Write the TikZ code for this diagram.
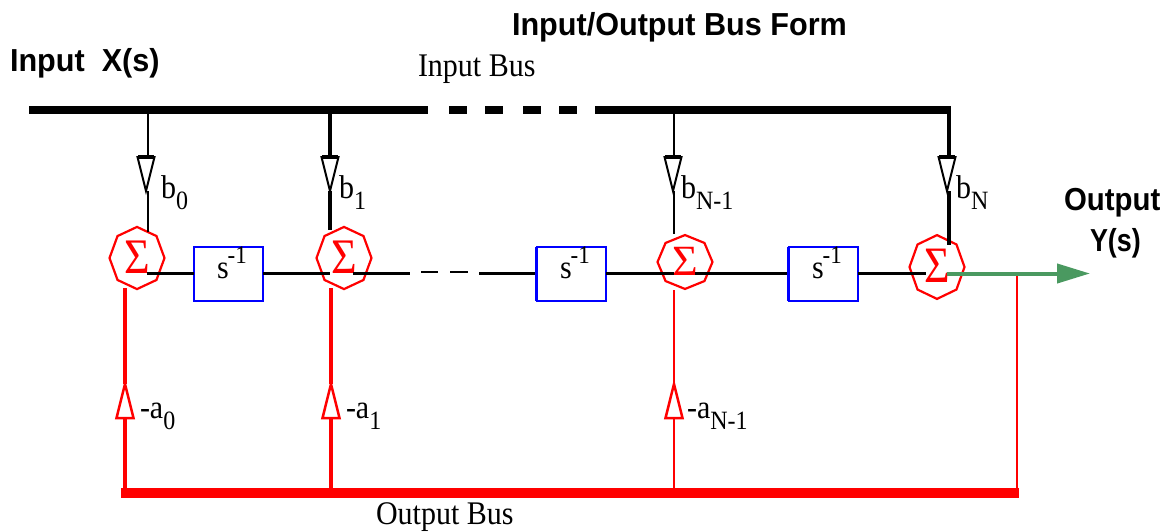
\documentclass[tikz,border=0pt]{standalone}
\usepackage{fontspec}
\setmainfont{Liberation Serif}
\newfontfamily\headfont{Liberation Sans}
\usetikzlibrary{shapes.geometric,arrows.meta}
\newcommand{\subt}[1]{\raisebox{-10.5pt}{\fontsize{24}{24}\selectfont #1}}
\newcommand{\supt}[1]{\kern-1pt\raisebox{13pt}{\fontsize{23}{23}\selectfont #1}}
\newcommand{\sigmark}{\raisebox{2pt}{\symbol{"03A3}}}
\definecolor{outgreen}{RGB}{74,153,96}
\tikzset{
  every node/.style={inner sep=0pt,outer sep=0pt},
  head/.style={font=\headfont\bfseries\fontsize{30.6}{30}\selectfont,text=black,anchor=base west,yscale=1.04,transform shape},
  serif/.style={font=\fontsize{30}{30}\selectfont,text=black,anchor=base west,yscale=1.1,transform shape},
  sumnode/.style={shape=regular polygon,regular polygon sides=8,shape border rotate=22.5,draw=red,line width=2.2pt,fill=none,
    minimum size=55pt,text=red,font=\fontsize{44}{44}\selectfont,transform shape},
  delay/.style={draw=blue,line width=2pt,minimum width=69pt,minimum height=54pt,anchor=north west},
  gaindown/.style={shape=isosceles triangle,isosceles triangle apex angle=28,shape border rotate=270,
    draw=black,line width=2pt,fill=white,anchor=apex,minimum height=34pt,minimum width=16pt},
  gainup/.style={shape=isosceles triangle,isosceles triangle apex angle=28,shape border rotate=90,
    draw=red,line width=2.5pt,fill=white,anchor=apex,minimum height=34pt,minimum width=16pt},
  bus/.style={line width=8pt,black},
  sig/.style={line width=3.5pt,black},
  sigdash/.style={line width=2pt,black},
  feed/.style={line width=2.5pt,black},
  feedT/.style={line width=4pt,black},
  back/.style={line width=4pt,red},
  backt/.style={line width=2pt,red},
}
\begin{document}
\begin{tikzpicture}[x=1pt,y=-1pt]
\useasboundingbox (0,0) rectangle (1166,531);
% titles
\node[head] (title) at (512,35) {Input/Output Bus Form};
\node[head] (inlab) at (10,71) {Input\ \ X(s)};
\node[serif] (inbus) at (418,76) {Input Bus};
\node[serif] (outbus) at (376,524) {Output Bus};
\node[head,xscale=0.96] (outl) at (1064,210) {Output};
\node[head,xscale=0.88] (outy) at (1090,251) {Y(s)};
% coordinates
\coordinate (busA) at (29,110); \coordinate (busB) at (428,110);
\coordinate (d1a) at (449,110); \coordinate (d1b) at (467,110);
\coordinate (d2a) at (485,110); \coordinate (d2b) at (503,110);
\coordinate (d3a) at (523,110); \coordinate (d3b) at (541,110);
\coordinate (d4a) at (559,110); \coordinate (d4b) at (577,110);
\coordinate (busC) at (595,110); \coordinate (busD) at (951,110);
\coordinate (t0) at (148,110); \coordinate (t1) at (330,110);
\coordinate (t2) at (674,110); \coordinate (t3) at (949,110);
% sums
\node[sumnode,yscale=1.13] (s0) at (137,258) {\sigmark};
\node[sumnode,yscale=1.13] (s1) at (344,258) {\sigmark};
\node[sumnode,yscale=0.98] (s2) at (685,262) {\sigmark};
\node[sumnode,yscale=1.16] (s3) at (937,267) {\sigmark};
% delays
\node[delay] (z0) at (193.5,246.5) {};
\node[delay] (z1) at (536.5,246.5) {};
\node[delay] (z2) at (788.5,246.5) {};
\node[serif] (z0t) at (217,278) {s\supt{-1}};
\node[serif] (z1t) at (560,278) {s\supt{-1}};
\node[serif] (z2t) at (812,278) {s\supt{-1}};
% gains
\node[gaindown] (g0) at (146,191) {};
\node[gaindown] (g1) at (330,191) {};
\node[gaindown] (g2) at (673,191) {};
\node[gaindown] (g3) at (947,191) {};
\node[gainup] (h0) at (125,384) {};
\node[gainup] (h1) at (331,384) {};
\node[gainup] (h2) at (674,384) {};
\node[serif] (b0) at (161,198) {b\subt{0}};
\node[serif] (b1) at (339,198) {b\subt{1}};
\node[serif] (b2) at (681,198) {b\subt{N-1}};
\node[serif] (b3) at (956,198) {b\subt{N}};
\node[serif] (a0) at (140,418) {-a\subt{0}};
\node[serif] (a1) at (346,418) {-a\subt{1}};
\node[serif] (a2) at (687,418) {-a\subt{N-1}};
% end coordinates
\coordinate (e0) at (148,232); \coordinate (e1) at (330,230);
\coordinate (e2) at (674,234); \coordinate (e3) at (949,245);
\coordinate (r0) at (125,288); \coordinate (r1) at (331,288);
\coordinate (r2) at (674,290);
\coordinate (o0) at (125,490); \coordinate (o1) at (331,490);
\coordinate (o2) at (674,490); \coordinate (o3) at (1017,490);
\coordinate (j) at (1017,274);
\coordinate (obA) at (121,493); \coordinate (obB) at (1019,493);
\coordinate (l0) at (147,273.7); \coordinate (l1) at (330,273.7);
\coordinate (l2) at (353,273.7); \coordinate (l3) at (410,273.7);
\coordinate (m1) at (421,272); \coordinate (m2) at (438,272);
\coordinate (m3) at (450,272); \coordinate (m4) at (468,272);
\coordinate (l4) at (479,273.7);
\coordinate (l5) at (674,273.7); \coordinate (l6) at (695,273.7);
\coordinate (l7) at (926,273.7);
\coordinate (gA) at (947,273.5); \coordinate (gB) at (1090,273.5);
% input bus
\draw[bus] (busA) -- (busB);
\draw[bus] (d1a) -- (d1b);
\draw[bus] (d2a) -- (d2b);
\draw[bus] (d3a) -- (d3b);
\draw[bus] (d4a) -- (d4b);
\draw[bus] (busC) -- (busD);
% feedforward
\draw[feed] (t0) -- (t0 |- g0.lower side);
\draw[feedT] (t1) -- (t1 |- g1.lower side);
\draw[feed] (t2) -- (t2 |- g2.lower side);
\draw[feedT] (t3) -- (t3 |- g3.lower side);
\draw[feed] (e0 |- g0.apex) -- (e0);
\draw[feedT] (e1 |- g1.apex) -- (e1);
\draw[feed] (e2 |- g2.apex) -- (e2);
\draw[feedT] (e3 |- g3.apex) -- (e3);
\foreach \g in {g0,g1,g2,g3}{\draw[line width=4pt,black] (\g.left corner) -- (\g.right corner);}
% signal line
\draw[sig] (l0) -- (l0 -| z0.west);
\draw[sig] (l1 -| z0.east) -- (l1);
\draw[sig] (l2) -- (l3);
\draw[sigdash] (m1) -- (m2);
\draw[sigdash] (m3) -- (m4);
\draw[sig] (l4) -- (l4 -| z1.west);
\draw[sig] (l5 -| z1.east) -- (l5);
\draw[sig] (l6) -- (l6 -| z2.west);
\draw[sig] (l7 -| z2.east) -- (l7);
% thick left edges
\draw[blue,line width=3.5pt] (z1.north west) -- (z1.south west);
\draw[blue,line width=3.5pt] (z2.north west) -- (z2.south west);
% feedback
\draw[back] (r0) -- (h0.apex);
\draw[back] (r1) -- (h1.apex);
\draw[backt] (r2) -- (h2.apex);
\draw[back] (h0.lower side) -- (o0);
\draw[back] (h1.lower side) -- (o1);
\draw[backt] (h2.lower side) -- (o2);
\draw[backt] (j) -- (o3);
\draw[red,line width=10pt] (obA) -- (obB);
% output
\draw[line width=4pt,draw=outgreen,
  -{Triangle[length=33pt,width=19pt,fill=outgreen]}] (gA) -- (gB);
\end{tikzpicture}
\end{document}
